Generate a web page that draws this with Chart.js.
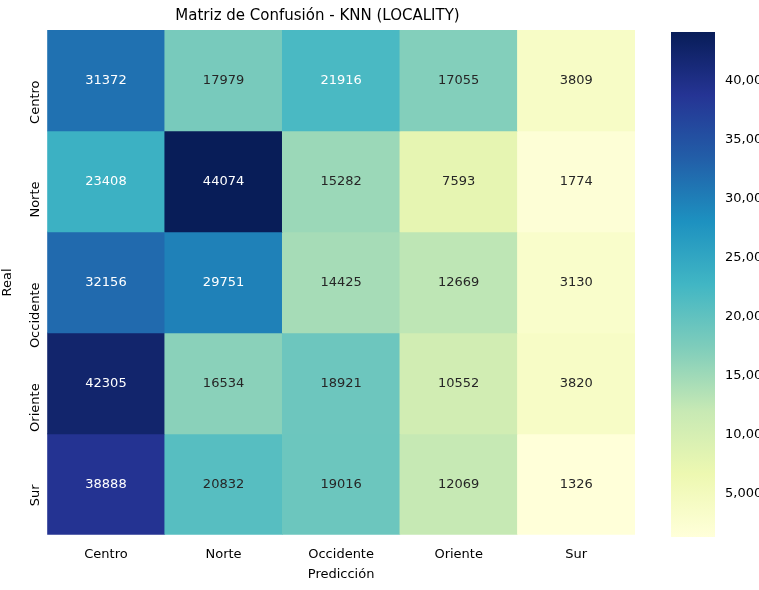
<!DOCTYPE html>
<html lang="es">
<head>
<meta charset="UTF-8">
<title>Matriz de Confusión - KNN</title>
<script src="https://cdn.jsdelivr.net/npm/chart.js"></script>
<style>
  body { margin: 0; background: #fff; font-family: 'DejaVu Sans', sans-serif; }
  #wrap { position: relative; width: 759px; height: 590px; }
  #heat { position: absolute; left: 0; top: 0; }
  #bar { position: absolute; left: 640px; top: 0; }
</style>
</head>
<body>
<div id="wrap">
  <canvas id="heat" width="645" height="590"></canvas>
  <canvas id="bar" width="119" height="590"></canvas>
</div>
<script>
const predLabels = ['Centro', 'Norte', 'Occidente', 'Oriente', 'Sur'];
const realLabels = ['Centro', 'Norte', 'Occidente', 'Oriente', 'Sur'];
const matrix = [
  [31372, 17979, 21916, 17055, 3809],
  [23408, 44074, 15282, 7593, 1774],
  [32156, 29751, 14425, 12669, 3130],
  [42305, 16534, 18921, 10552, 3820],
  [38888, 20832, 19016, 12069, 1326]
];
const cbTicks = [5000, 10000, 15000, 20000, 25000, 30000, 35000, 40000];

const vmin = Math.min(...matrix.flat());
const vmax = Math.max(...matrix.flat());
const stops = ['#ffffd9','#edf8b1','#c7e9b4','#7fcdbb','#41b6c4','#1d91c0','#225ea8','#253494','#081d58'];
function hex(h) { return [1,3,5].map(i => parseInt(h.substr(i,2),16)); }
function rgbAt(t) {
  t = Math.max(0, Math.min(1, t)) * (stops.length - 1);
  const i = Math.min(Math.floor(t), stops.length - 2), f = t - i;
  const a = hex(stops[i]), b = hex(stops[i+1]);
  return a.map((v, k) => Math.round(v + (b[k]-v)*f));
}
function colorFor(v) { const c = rgbAt((v - vmin)/(vmax - vmin)); return `rgb(${c.join(',')})`; }
function textFor(v) {
  const c = rgbAt((v - vmin)/(vmax - vmin)).map(x => { x/=255; return x <= 0.03928 ? x/12.92 : Math.pow((x+0.055)/1.055, 2.4); });
  const lum = 0.2126*c[0] + 0.7152*c[1] + 0.0722*c[2];
  return lum > 0.408 ? '#262626' : '#ffffff';
}

Chart.defaults.font.family = "'DejaVu Sans', sans-serif";
Chart.defaults.color = '#000';
Chart.defaults.font.size = 13;

const datasets = realLabels.map((r, ri) => ({
  label: r,
  data: matrix[ri].map(() => [ri - 0.5, ri + 0.5]),
  values: matrix[ri],
  backgroundColor: matrix[ri].map(colorFor),
  borderWidth: 0,
  grouped: false,
  barPercentage: 1,
  categoryPercentage: 1
}));

const cellText = {
  id: 'cellText',
  afterDatasetsDraw(chart) {
    const ctx = chart.ctx;
    ctx.save();
    ctx.font = "13px 'DejaVu Sans', sans-serif";
    ctx.textAlign = 'center';
    ctx.textBaseline = 'middle';
    chart.data.datasets.forEach((ds, di) => {
      chart.getDatasetMeta(di).data.forEach((bar, j) => {
        const v = ds.values[j];
        const p = bar.getCenterPoint();
        ctx.fillStyle = textFor(v);
        ctx.fillText(String(v), p.x, p.y);
      });
    });
    ctx.restore();
  }
};

new Chart(document.getElementById('heat'), {
  type: 'bar',
  data: { labels: predLabels, datasets },
  plugins: [cellText],
  options: {
    responsive: false,
    animation: false,
    layout: { padding: { left: 0, right: 10, top: 0, bottom: 0 } },
    plugins: {
      legend: { display: false },
      tooltip: { enabled: false },
      title: { display: true, text: 'Matriz de Confusión - KNN (LOCALITY)', font: { size: 15, weight: 'normal' }, color: '#000', padding: { top: 7, bottom: 5 } }
    },
    scales: {
      x: {
        grid: { display: false, drawTicks: true },
        border: { display: false },
        ticks: { color: '#000', padding: 4 },
        title: { display: true, text: 'Predicción', color: '#000', padding: { top: 0, bottom: 8 } }
      },
      y: {
        type: 'linear',
        reverse: true,
        min: -0.5, max: 4.5,
        afterBuildTicks(axis) { axis.ticks = realLabels.map((_, i) => ({ value: i })); },
        grid: { display: false },
        border: { display: false },
        ticks: {
          color: '#000', minRotation: 90, maxRotation: 90, padding: 4,
          callback: v => realLabels[v]
        },
        title: { display: true, text: 'Real', color: '#000', padding: { top: 0, bottom: 0 } }
      }
    }
  }
});

// colour bar
const cb = document.getElementById('bar');
new Chart(cb, {
  type: 'bar',
  data: { labels: [''], datasets: [{
    data: [[vmin, vmax]],
    backgroundColor(ctx) {
      const area = ctx.chart.chartArea;
      if (!area) return '#ccc';
      const g = ctx.chart.ctx.createLinearGradient(0, area.bottom, 0, area.top);
      stops.forEach((s, i) => g.addColorStop(i/(stops.length-1), s));
      return g;
    },
    borderWidth: 0, barPercentage: 1, categoryPercentage: 1
  }]},
  options: {
    responsive: false,
    animation: false,
    layout: { padding: { left: 31, right: 0, top: 32, bottom: 53 } },
    plugins: { legend: { display: false }, tooltip: { enabled: false } },
    scales: {
      x: { display: false },
      y: {
        position: 'right',
        min: vmin, max: vmax,
        afterBuildTicks(axis) { axis.ticks = cbTicks.map(v => ({ value: v })); },
        grid: { display: false, drawTicks: true },
        border: { display: false },
        ticks: { color: '#000', padding: 2 }
      }
    }
  }
});
</script>
</body>
</html>
